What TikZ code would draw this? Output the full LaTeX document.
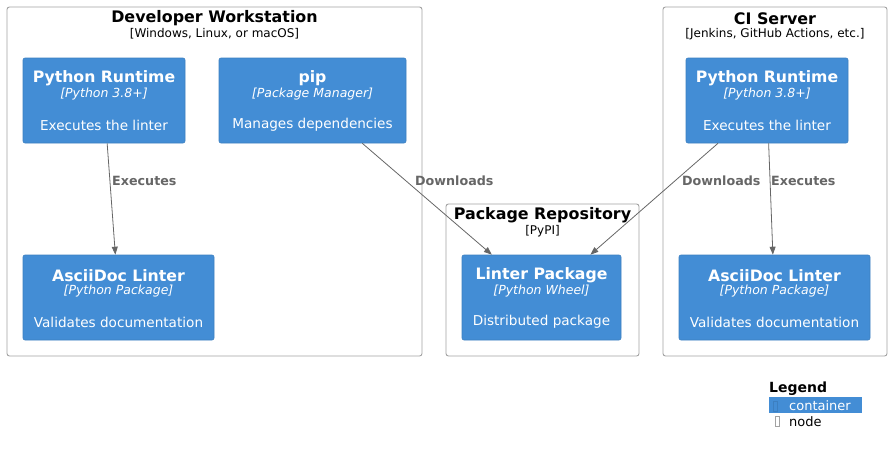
\documentclass[tikz,border=0pt]{standalone}
\usepackage{fontspec}
\setmainfont{DejaVu Sans}
\usetikzlibrary{arrows.meta,calc}
\definecolor{cblue}{HTML}{438DD5}
\definecolor{cbord}{HTML}{3C7FC0}
\definecolor{bgray}{HTML}{A2A2A2}
\definecolor{agray}{HTML}{666666}
\tikzset{
  boundary/.style={draw=bgray, line width=0.9pt, rounded corners=2.5pt},
  cont/.style={draw=cbord, fill=cblue, line width=0.6pt, rounded corners=2pt, inner sep=0pt},
  cname/.style={text=white, font=\fontsize{15.7}{18}\selectfont\bfseries, inner sep=0pt},
  ctech/.style={text=white, font=\fontsize{12.5}{14}\selectfont\itshape, inner sep=0pt},
  cdesc/.style={text=white, font=\fontsize{13.6}{16}\selectfont, inner sep=0pt},
  btitle/.style={font=\fontsize{15.9}{18}\selectfont\bfseries, inner sep=0pt},
  bsub/.style={font=\fontsize{12}{14}\selectfont, inner sep=0pt},
  rel/.style={draw=agray, line width=0.8pt, -{Triangle[length=8pt,width=6pt]}},
  rlabel/.style={text=agray, font=\fontsize{12.7}{14}\selectfont\bfseries, inner sep=0pt, anchor=west},
}
\newcommand{\mybox}[8]{%
  \node[cont, minimum width={(#4-#2)*1pt}, minimum height={(#5-#3)*1pt}] (#1) at ({(#2+#4)/2},{(#3+#5)/2}) {};
  \node[cname] (#1-n) at ($(#1.center)+(0,-22)$) {#6};
  \node[ctech] (#1-t) at ($(#1.center)+(0,-6)$) {#7};
  \node[cdesc] (#1-d) at ($(#1.center)+(0,24.5)$) {#8};
}
\begin{document}
\begin{tikzpicture}[x=1pt,y=-1pt]
\useasboundingbox (0,0) rectangle (892,455);
% boundaries
\draw[boundary] (7,7) rectangle (422,356);
\node[btitle] (dwt) at (214.5,18.5) {Developer Workstation};
\node[bsub] (dws) at (214.5,34) {[Windows, Linux, or macOS]};
\draw[boundary] (446,204) rectangle (639,356);
\node[btitle] (prt) at (542.5,215.5) {Package Repository};
\node[bsub] (prs) at (542.5,231) {[PyPI]};
\draw[boundary] (663,7) rectangle (887,356);
\node[btitle] (cit) at (775,18.5) {CI Server};
\node[bsub] (cis) at (775,34) {[Jenkins, GitHub Actions, etc.]};
% containers
\mybox{prL}{23}{58}{185}{143}{Python Runtime}{[Python 3.8+]}{Executes the linter}
\mybox{pip}{219}{58}{406}{143}{pip}{[Package Manager]}{Manages dependencies}
\mybox{alL}{23}{255}{214}{340}{AsciiDoc Linter}{[Python Package]}{Validates documentation}
\mybox{lp}{462}{255}{621}{340}{Linter Package}{[Python Wheel]}{Distributed package}
\mybox{prR}{686}{58}{848}{143}{Python Runtime}{[Python 3.8+]}{Executes the linter}
\mybox{alR}{679}{255}{870}{340}{AsciiDoc Linter}{[Python Package]}{Validates documentation}
% relations
\draw[rel] (prL) -- (alL);
\draw[rel] (pip) -- (lp);
\draw[rel] (prR) -- (lp);
\draw[rel] (prR) -- (alR);
\node[rlabel] (l1) at (112,181) {Executes};
\node[rlabel] (l2) at (415,181) {Downloads};
\node[rlabel] (l3) at (682,181) {Downloads};
\node[rlabel] (l4) at (771,181) {Executes};
% legend
\node[font=\fontsize{14}{16}\selectfont\bfseries, inner sep=0pt, anchor=west] (lg) at (769,389) {Legend};
\fill[cblue] (769,397) rectangle (862,413);
\draw[cbord, line width=0.6pt] (773.5,401) rectangle (777.5,411);
\node[text=white, font=\fontsize{13}{15}\selectfont, inner sep=0pt, anchor=west] (lc) at (789,405.5) {container};
\draw[bgray, line width=0.6pt] (775.5,416.5) rectangle (779.5,426);
\node[font=\fontsize{13}{15}\selectfont, inner sep=0pt, anchor=west] (ln) at (789,421.5) {node};
\end{tikzpicture}
\end{document}
